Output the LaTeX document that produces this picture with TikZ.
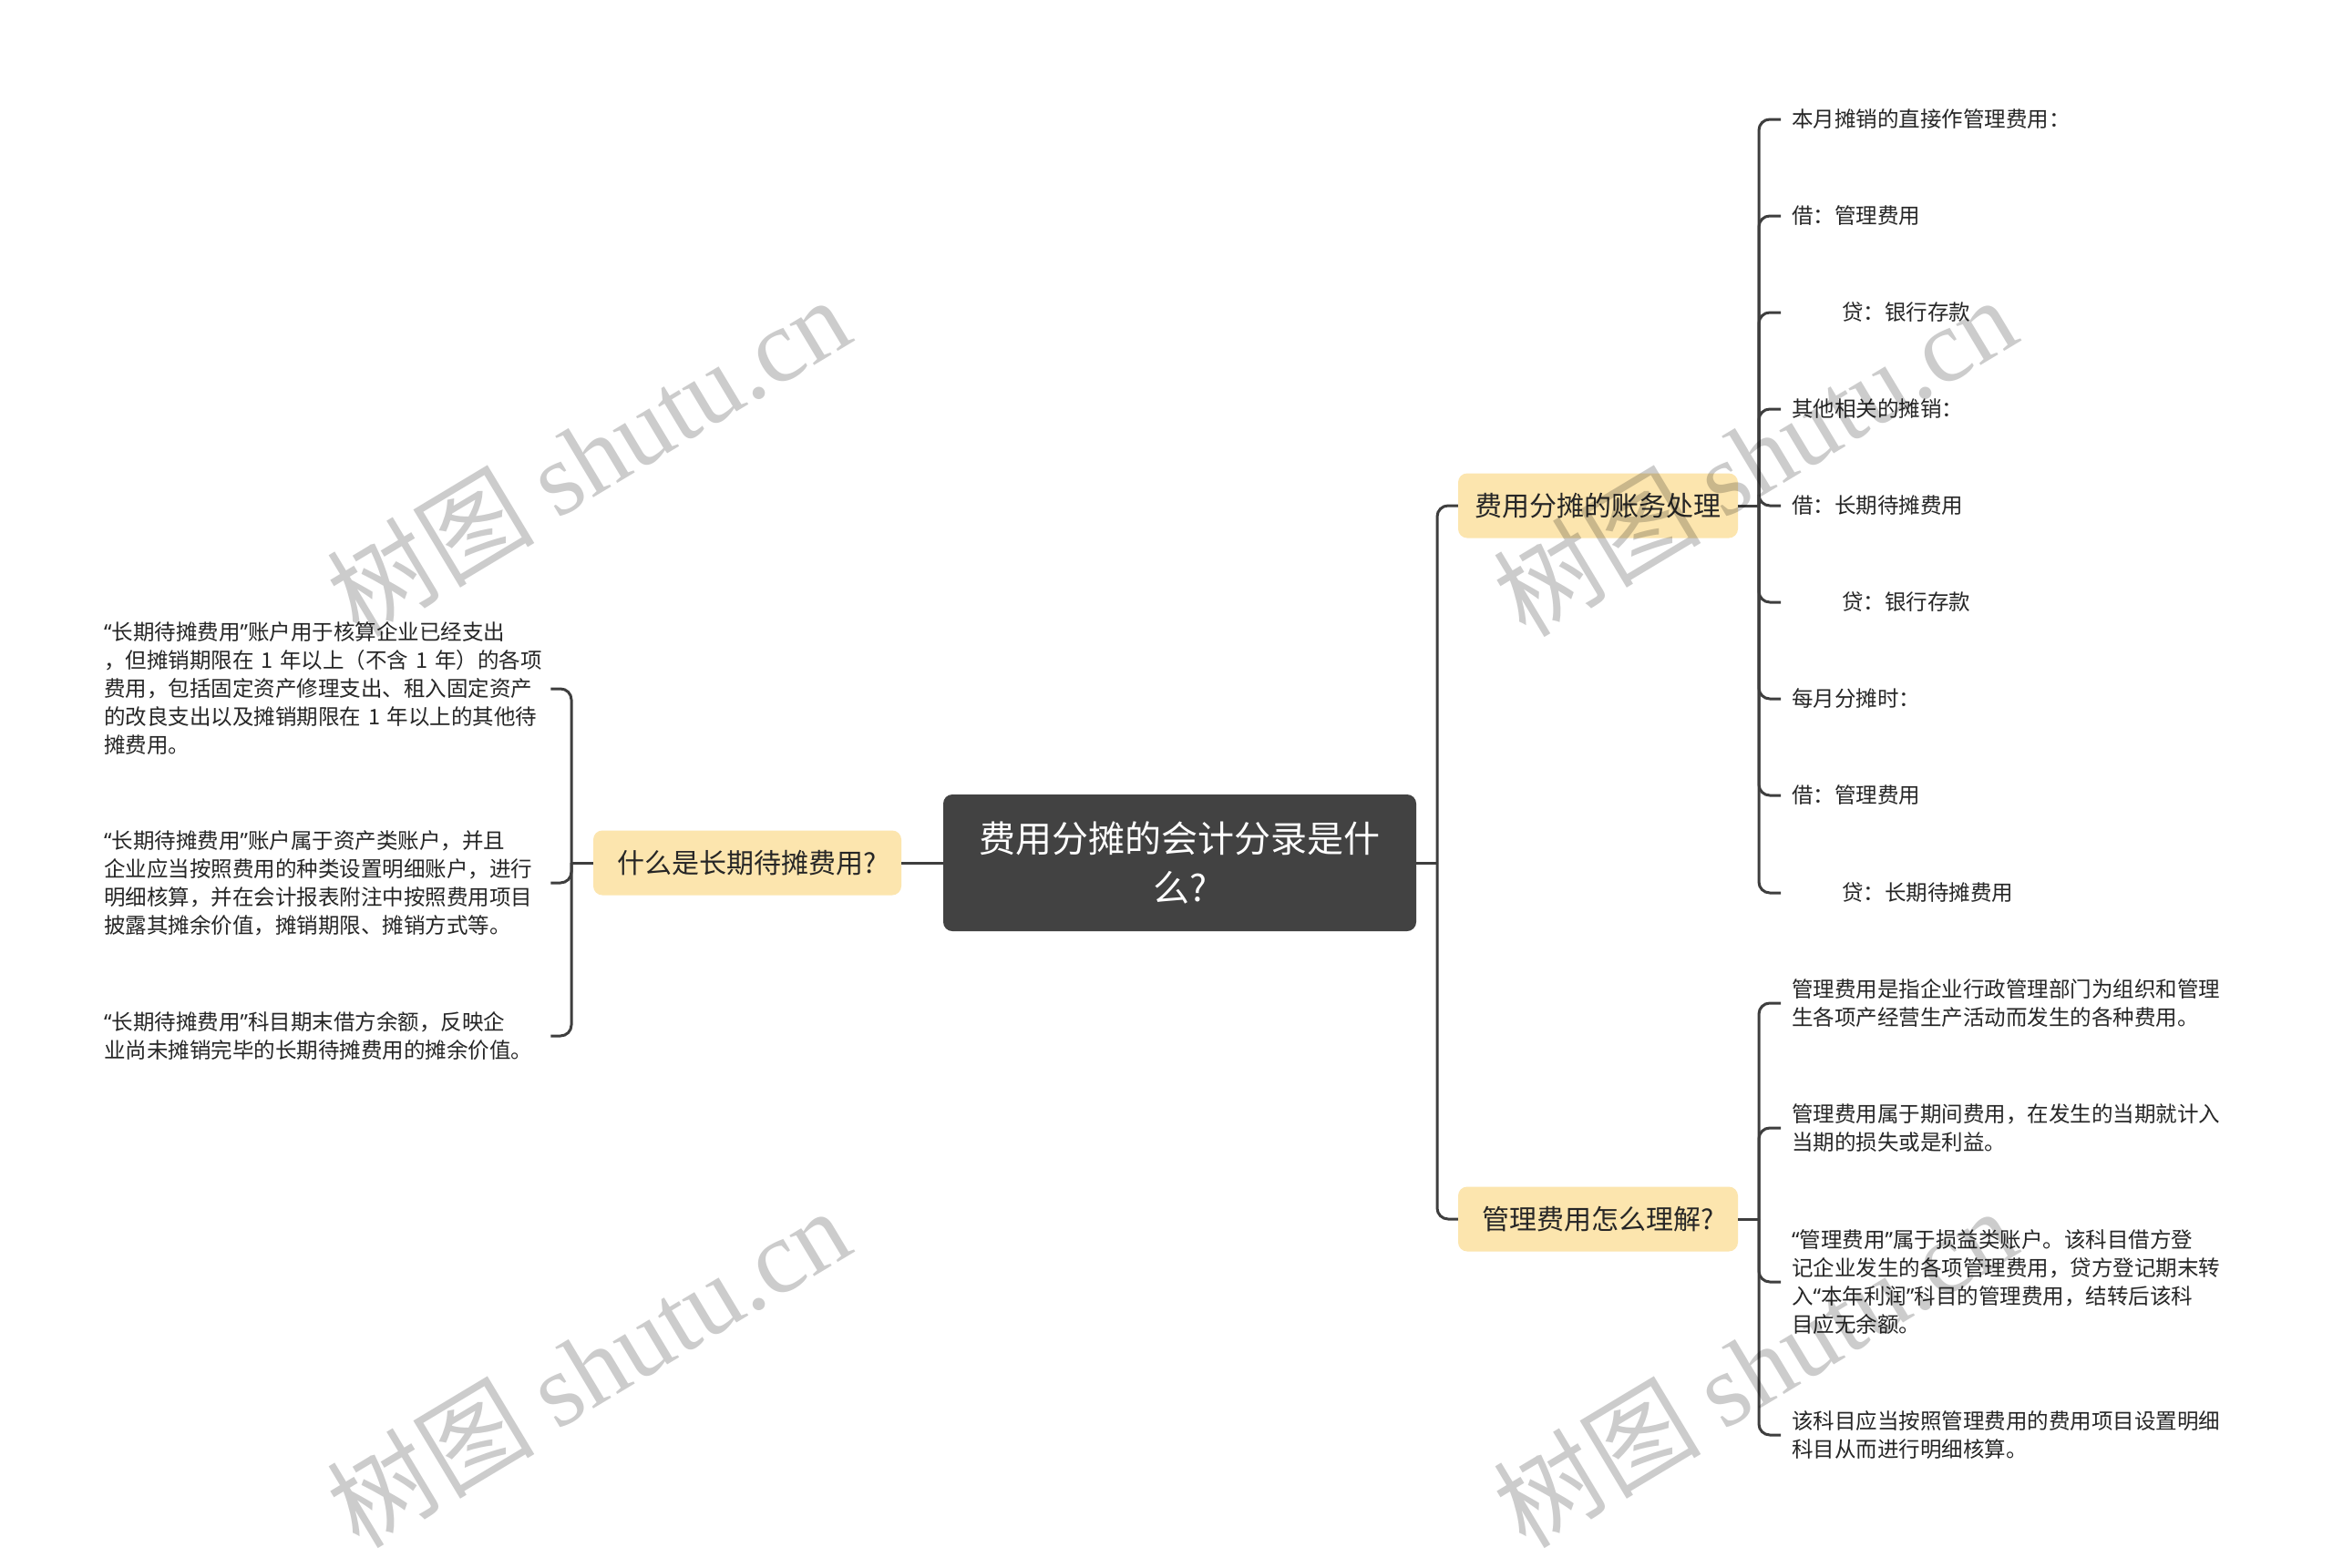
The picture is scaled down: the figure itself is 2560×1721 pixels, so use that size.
\documentclass[tikz,border=0pt]{standalone}
\usepackage{fontspec}
\setmainfont{Noto Sans CJK SC}
\newfontfamily\wmlatin{Liberation Serif}
\newfontfamily\quotefont{Noto Sans}
\newcommand\myql{{\quotefont “}}
\newcommand\myqr{{\quotefont ”}}
\definecolor{rootfill}{HTML}{424242}
\definecolor{topicfill}{HTML}{FCE5AE}
\definecolor{linec}{HTML}{3E3E3E}
\definecolor{textc}{HTML}{262626}
\tikzset{
  rootbox/.style={fill=rootfill, rounded corners=10pt, text=white, align=center,
    minimum width=519pt, minimum height=150pt, inner sep=0pt,
    font=\fontsize{40}{54}\selectfont},
  topicbox/.style={fill=topicfill, rounded corners=10pt, text=textc, align=center,
    minimum height=71pt, inner sep=0pt, font=\fontsize{30}{36}\selectfont},
  leafl/.style={text=textc, align=left, text width=490pt, inner xsep=0pt, inner ysep=4pt,
    anchor=west, font=\fontsize{23.5}{31}\selectfont},
  leafr/.style={text=textc, align=left, text width=480pt, inner xsep=12pt, inner ysep=4pt,
    anchor=west, font=\fontsize{23.5}{31}\selectfont},
  conn/.style={draw=linec, line width=3pt, rounded corners=12pt},
  wm/.style={text=black, text opacity=0.2, rotate=31, inner sep=0pt,
    font=\fontsize{114}{120}\selectfont}
}
\begin{document}
\begin{tikzpicture}[x=1pt,y=-1pt]
\useasboundingbox[fill=white] (0,0) rectangle (2560,1721);

% root
\node[rootbox] (root) at (1294.5,947) {费用分摊的会计分录是什\\么?};

% topics
\node[topicbox, minimum width=338pt] (lt) at (820,947) {什么是长期待摊费用?};
\node[topicbox, minimum width=307pt] (t1) at (1753.5,555) {费用分摊的账务处理};
\node[topicbox, minimum width=307pt] (t2) at (1753.5,1338) {管理费用怎么理解?};

% junctions
\coordinate (lj) at (627,947);
\coordinate (rj) at (1577,947);
\coordinate (r1j) at (1930,555);
\coordinate (r2j) at (1930,1338);

% left leaves
\node[leafl] (l1) at (114,756) {\myql 长期待摊费用\myqr 账户用于核算企业已经支出\\，但摊销期限在 1 年以上（不含 1 年）的各项\\费用，包括固定资产修理支出、租入固定资产\\的改良支出以及摊销期限在 1 年以上的其他待\\摊费用。};
\node[leafl] (l2) at (114,969) {\myql 长期待摊费用\myqr 账户属于资产类账户，并且\\企业应当按照费用的种类设置明细账户，进行\\明细核算，并在会计报表附注中按照费用项目\\披露其摊余价值，摊销期限、摊销方式等。};
\node[leafl] (l3) at (114,1137) {\myql 长期待摊费用\myqr 科目期末借方余额，反映企\\业尚未摊销完毕的长期待摊费用的摊余价值。};

% right branch 1 leaves
\node[leafr] (a1) at (1954,131) {本月摊销的直接作管理费用：};
\node[leafr] (a2) at (1954,237) {借：管理费用};
\node[leafr] (a3) at (1954,343) {\hspace*{55pt}贷：银行存款};
\node[leafr] (a4) at (1954,449) {其他相关的摊销：};
\node[leafr] (a5) at (1954,555) {借：长期待摊费用};
\node[leafr] (a6) at (1954,661) {\hspace*{55pt}贷：银行存款};
\node[leafr] (a7) at (1954,767) {每月分摊时：};
\node[leafr] (a8) at (1954,873) {借：管理费用};
\node[leafr] (a9) at (1954,980) {\hspace*{55pt}贷：长期待摊费用};

% right branch 2 leaves
\node[leafr] (b1) at (1954,1101) {管理费用是指企业行政管理部门为组织和管理\\生各项产经营生产活动而发生的各种费用。};
\node[leafr] (b2) at (1954,1238) {管理费用属于期间费用，在发生的当期就计入\\当期的损失或是利益。};
\node[leafr] (b3) at (1954,1407) {\myql 管理费用\myqr 属于损益类账户。该科目借方登\\记企业发生的各项管理费用，贷方登记期末转\\入\myql 本年利润\myqr 科目的管理费用，结转后该科\\目应无余额。};
\node[leafr] (b4) at (1954,1575) {该科目应当按照管理费用的费用项目设置明细\\科目从而进行明细核算。};

% connectors
\draw[conn] (root.west) -- (lt.east);
\draw[conn] (root.east) -- (rj);
\draw[conn] (rj) |- (t1.west);
\draw[conn] (rj) |- (t2.west);

\draw[conn] (lt.west) -- (lj);
\foreach \n in {l1,l2,l3} \draw[conn] (lj) |- (\n.east);

\draw[conn] (t1.east) -- (r1j);
\foreach \n in {a1,a2,a3,a4,a5,a6,a7,a8,a9} \draw[conn] (r1j) |- (\n.west);

\draw[conn] (t2.east) -- (r2j);
\foreach \n in {b1,b2,b3,b4} \draw[conn] (r2j) |- (\n.west);

% watermarks
\node[wm] (w1) at (645,500) {树图 {\wmlatin shutu.cn}};
\node[wm] (w2) at (1925,500) {树图 {\wmlatin shutu.cn}};
\node[wm] (w3) at (645,1500) {树图 {\wmlatin shutu.cn}};
\node[wm] (w4) at (1925,1500) {树图 {\wmlatin shutu.cn}};
\end{tikzpicture}
\end{document}
